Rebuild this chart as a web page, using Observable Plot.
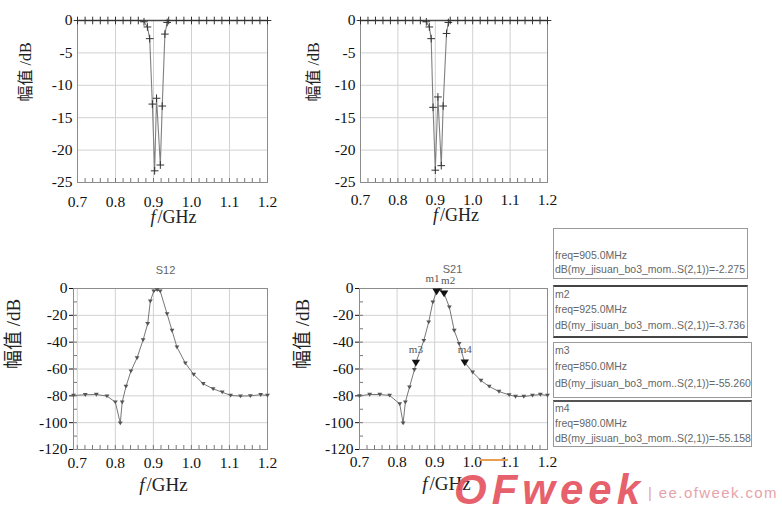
<!DOCTYPE html>
<html><head><meta charset="utf-8">
<script src="https://cdn.jsdelivr.net/npm/d3@7"></script>
<script src="https://cdn.jsdelivr.net/npm/@observablehq/plot@0.6"></script>
<style>
body{margin:0;background:#fff;}
#root{position:relative;width:782px;height:515px;overflow:hidden;background:#fff;}
.panel{position:absolute;}
.box{position:absolute;box-sizing:border-box;border:1px solid #9a9a9a;font:10.5px "Liberation Sans",Arial,sans-serif;color:#666;white-space:nowrap;background:#fff;z-index:2;}
.box div{position:absolute;left:1px;}
#wm{position:absolute;left:454px;top:466px;font:italic bold 42px "Liberation Sans",Arial,sans-serif;color:#e4505c;letter-spacing:5px;opacity:0.9;z-index:3;white-space:nowrap;}
#wm2{position:absolute;left:648px;top:484px;font:15px "Liberation Sans",Arial,sans-serif;color:#e6a3aa;letter-spacing:1.4px;z-index:3;white-space:nowrap;}
#bar{position:absolute;left:480px;top:459px;width:28px;height:2px;background:#e8a050;z-index:3;}
</style></head><body><div id="root"></div>
<script>
// ---- axis ticks ----
const xTicks = [0.7, 0.8, 0.9, 1.0, 1.1, 1.2];
const xTickLabels = ["0.7", "0.8", "0.9", "1.0", "1.1", "1.2"];
const xMinor = [0.70,0.72,0.74,0.76,0.78,0.80,0.82,0.84,0.86,0.88,0.90,0.92,0.94,0.96,0.98,1.00,1.02,1.04,1.06,1.08,1.10,1.12,1.14,1.16,1.18,1.20];
const yTicksTop = [0, -5, -10, -15, -20, -25];
const yTicksBottom = [0, -20, -40, -60, -80, -100, -120];
const yMinorBottom = [0,-10,-20,-30,-40,-50,-60,-70,-80,-90,-100,-110,-120];
const yLabel = "幅值 /dB";
const xLabelItalic = "f";
const xLabelRest = "/GHz";

// ---- top-left curve ----
const tlFreq = [0.70,0.72,0.74,0.76,0.78,0.80,0.82,0.84,0.86,0.875,0.884,0.890,0.897,0.903,0.908,0.918,0.923,0.930,0.936,0.94,0.96,0.98,1.00,1.02,1.04,1.06,1.08,1.10,1.12,1.14,1.16,1.18,1.20];
const tlDb   = [0,0,0,0,0,0,0,0,0,-0.2,-1.0,-2.8,-12.9,-23.2,-12.0,-22.3,-13.2,-2.1,-0.3,0,0,0,0,0,0,0,0,0,0,0,0,0,0];
// ---- top-right curve ----
const trFreq = [0.70,0.72,0.74,0.76,0.78,0.80,0.82,0.84,0.86,0.876,0.884,0.889,0.894,0.900,0.907,0.916,0.921,0.930,0.935,0.94,0.96,0.98,1.00,1.02,1.04,1.06,1.08,1.10,1.12,1.14,1.16,1.18,1.20];
const trDb   = [0,0,0,0,0,0,0,0,0,-0.2,-1.0,-2.8,-13.4,-23.1,-11.8,-22.4,-13.2,-2.0,-0.3,0,0,0,0,0,0,0,0,0,0,0,0,0,0];
// ---- bottom-left S12 ----
const s12Title = "S12";
const s12Freq = [0.690,0.721,0.750,0.778,0.800,0.813,0.818,0.828,0.841,0.857,0.873,0.885,0.892,0.901,0.910,0.918,0.936,0.949,0.962,0.984,1.006,1.031,1.057,1.081,1.103,1.129,1.155,1.182,1.200];
const s12Db   = [-79.7,-79.2,-79.0,-80.2,-84.7,-100.4,-84.7,-73.0,-61.6,-51.7,-38.3,-26.3,-9.4,-2.0,-1.0,-2.0,-18.9,-31.3,-43.7,-55.6,-64.1,-71.0,-74.8,-77.3,-79.7,-80.2,-80.0,-79.2,-79.7];
// ---- bottom-right S21 ----
const s21Title = "S21";
const s21Freq = [0.700,0.727,0.754,0.780,0.807,0.816,0.822,0.833,0.846,0.850,0.871,0.884,0.895,0.905,0.915,0.925,0.939,0.952,0.965,0.980,1.001,1.023,1.045,1.071,1.098,1.115,1.137,1.160,1.181,1.200];
const s21Db   = [-80.0,-79.0,-79.0,-79.7,-86.0,-100.4,-84.7,-73.5,-60.6,-55.26,-38.8,-25.1,-10.2,-2.275,-1.0,-3.736,-13.9,-31.3,-41.2,-55.159,-62.4,-68.6,-73.0,-76.8,-79.3,-80.5,-80.5,-79.7,-79.0,-79.7];
// ---- markers ----
const markerNames = ["m1", "m2", "m3", "m4"];
const markerFreq = [0.905, 0.925, 0.850, 0.980];
const markerDb = [-2.275, -3.736, -55.26, -55.159];
const markerLabelAnchor = ["end", "start", "middle", "middle"];
const markerLine1 = ["", "m2", "m3", "m4"];
const markerLine2 = ["freq=905.0MHz", "freq=925.0MHz", "freq=850.0MHz", "freq=980.0MHz"];
const markerLine3 = ["dB(my_jisuan_bo3_mom..S(2,1))=-2.275", "dB(my_jisuan_bo3_mom..S(2,1))=-3.736", "dB(my_jisuan_bo3_mom..S(2,1))=-55.260", "dB(my_jisuan_bo3_mom..S(2,1))=-55.158"];

const root = document.getElementById("root");
const serif = '"Liberation Serif","Times New Roman",serif';

// downward-pointing triangle symbol
const triDown = {
  draw(ctx, size) {
    const r = Math.sqrt(size / Math.PI);
    ctx.moveTo(-r, -r * 0.7);
    ctx.lineTo(r, -r * 0.7);
    ctx.lineTo(0, r * 0.9);
    ctx.closePath();
  }
};

function panel(c) {
  const fw = c.width - c.mL - c.mR, fh = c.height - c.mT - c.mB;
  const data = c.freq.map((f, i) => ({f, db: c.db[i]}));
  const marks = [
    Plot.ruleX(xTicks, {stroke: "#d2d2d2"}),
    Plot.ruleY(c.yTicks, {stroke: "#d2d2d2"}),
    Plot.ruleX(xMinor, {insetTop: fh - 4, stroke: "#777"}),
  ];
  if (c.yMinor) marks.push(Plot.ruleY(c.yMinor, {insetRight: fw - 4, stroke: "#777"}));
  marks.push(Plot.frame({stroke: "#8c8c8c"}));
  marks.push(Plot.line(data, {x: "f", y: "db", stroke: c.lineColor, strokeWidth: c.lineWidth}));
  if (c.plus) {
    marks.push(Plot.ruleY([c.yDomain[1]], {stroke: "#444", strokeWidth: 1.6}));
    marks.push(Plot.dot(data, {x: "f", y: "db", symbol: "plus", r: 2.6, stroke: "#333", strokeWidth: 1}));
  } else {
    marks.push(Plot.dot(data, {x: "f", y: "db", symbol: triDown, r: 2.4, fill: "#555", stroke: "none"}));
  }
  if (c.markers) {
    const md = markerNames.map((n, i) => ({n, f: markerFreq[i], db: markerDb[i], a: markerLabelAnchor[i]}));
    marks.push(Plot.dot(md, {x: "f", y: "db", symbol: triDown, r: 4.2, fill: "#111", stroke: "none"}));
    for (const a of ["start", "middle", "end"]) {
      const sub = md.filter(d => d.a === a);
      marks.push(Plot.text(sub, {x: "f", y: "db", text: "n", textAnchor: a, dx: a === "end" ? 3 : a === "start" ? -3 : 0, dy: -13, fontSize: 11, fill: "#555", fontFamily: serif}));
    }
  }
  if (c.title) marks.push(Plot.text([c.title], {text: d => d, frameAnchor: "top", dx: c.titleDx, dy: c.titleDy, fontSize: 11, fill: "#666", fontFamily: '"Liberation Sans",Arial,sans-serif'}));
  marks.push(Plot.text([yLabel], {text: d => d, frameAnchor: "left", rotate: -90, dx: c.ylDx, fontSize: c.ylSize, fill: "#222", fontFamily: serif + ',"Noto Sans CJK SC"'}));
  marks.push(Plot.text([xLabelItalic], {text: d => d, frameAnchor: "bottom", textAnchor: "end", dx: c.xlDx, dy: c.xlDy, fontSize: c.xlSize, fontStyle: "italic", fill: "#222", fontFamily: serif}));
  marks.push(Plot.text([xLabelRest], {text: d => d, frameAnchor: "bottom", textAnchor: "start", dx: c.xlDx + 2, dy: c.xlDy, fontSize: c.xlSize, fill: "#222", fontFamily: serif}));

  const p = Plot.plot({
    width: c.width, height: c.height,
    marginLeft: c.mL, marginRight: c.mR, marginTop: c.mT, marginBottom: c.mB,
    style: {fontFamily: serif, fontSize: "15.5px", color: "#111", background: "transparent", overflow: "visible"},
    x: {domain: c.xDomain, ticks: xTicks, tickSize: 0, tickPadding: c.xPad, tickFormat: d => xTickLabels[xTicks.indexOf(d)], label: null},
    y: {domain: c.yDomain, ticks: c.yTicks, tickSize: c.yTickSize, tickPadding: c.yPad, tickFormat: d => String(d), label: null},
    marks
  });
  const div = document.createElement("div");
  div.className = "panel";
  div.style.left = c.left + "px";
  div.style.top = c.top + "px";
  div.appendChild(p);
  root.appendChild(div);
}

panel({left: 0, top: 0, width: 280, height: 240, mL: 77, mR: 13, mT: 20, mB: 58,
  freq: tlFreq, db: tlDb, xDomain: [0.7, 1.2], yDomain: [-25, 0], yTicks: yTicksTop, yTickSize: 0, yPad: 5, xPad: 13,
  lineColor: "#808080", lineWidth: 1.1, plus: true, ylDx: -52, ylSize: 16, xlDx: -17, xlDy: 40, xlSize: 18});
panel({left: 280, top: 0, width: 280, height: 240, mL: 80, mR: 13, mT: 20, mB: 58,
  freq: trFreq, db: trDb, xDomain: [0.7, 1.2], yDomain: [-25, 0], yTicks: yTicksTop, yTickSize: 0, yPad: 5, xPad: 11,
  lineColor: "#808080", lineWidth: 1.1, plus: true, ylDx: -47, ylSize: 16, xlDx: -16, xlDy: 38, xlSize: 18});
panel({left: 0, top: 250, width: 280, height: 260, mL: 73, mR: 13, mT: 38, mB: 61,
  freq: s12Freq, db: s12Db, xDomain: [0.69, 1.2], yDomain: [-120, 0], yTicks: yTicksBottom, yMinor: yMinorBottom, yTickSize: 4, yPad: 2, xPad: 7,
  lineColor: "#777", lineWidth: 1, title: s12Title, titleDx: -5, titleDy: -22, ylDx: -60, ylSize: 19, xlDx: -26, xlDy: 41, xlSize: 19});
panel({left: 280, top: 250, width: 280, height: 260, mL: 79, mR: 13, mT: 38, mB: 61,
  freq: s21Freq, db: s21Db, xDomain: [0.7, 1.2], yDomain: [-120, 0], yTicks: yTicksBottom, yMinor: yMinorBottom, yTickSize: 4, yPad: 2, xPad: 6,
  lineColor: "#777", lineWidth: 1, markers: true, title: s21Title, titleDx: -1, titleDy: -23, ylDx: -57, ylSize: 19, xlDx: -26, xlDy: 40, xlSize: 19});

// ---- marker readout boxes ----
const boxes = [
  {left: 553, top: 228, w: 195, h: 51, css: {}},
  {left: 553, top: 285, w: 195, h: 53, css: {borderTop: "2px solid #444", borderBottom: "2px solid #444"}},
  {left: 553, top: 342, w: 199, h: 56, css: {}},
  {left: 553, top: 400, w: 199, h: 47, css: {borderTop: "2px solid #555"}}
];
const lineTops = [[9, 20, 34], [1, 16, 32], [1, 17, 34], [0, 15, 30]];
boxes.forEach((b, i) => {
  const d = document.createElement("div");
  d.className = "box";
  Object.assign(d.style, {left: b.left + "px", top: b.top + "px", width: b.w + "px", height: b.h + "px"}, b.css);
  [markerLine1[i], markerLine2[i], markerLine3[i]].forEach((t, j) => {
    if (!t) return;
    const s = document.createElement("div");
    s.textContent = t;
    s.style.top = lineTops[i][j] + "px";
    d.appendChild(s);
  });
  root.appendChild(d);
});

// ---- watermark ----
const wm = document.createElement("div"); wm.id = "wm"; wm.textContent = "OFweek"; root.appendChild(wm);
const wm2 = document.createElement("div"); wm2.id = "wm2"; wm2.textContent = "| ee.ofweek.com"; root.appendChild(wm2);
const bar = document.createElement("div"); bar.id = "bar"; root.appendChild(bar);
</script>
</body></html>
